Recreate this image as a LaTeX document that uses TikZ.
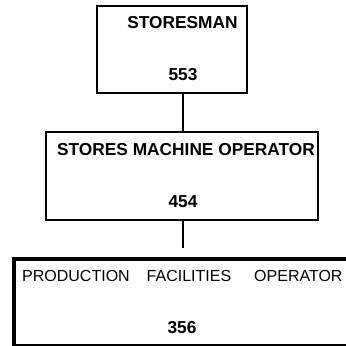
\documentclass[tikz,border=0pt]{standalone}
\usepackage{fontspec}
\setmainfont{Liberation Sans}
\begin{document}
\begin{tikzpicture}[x=1pt,y=-1pt,
  boxthin/.style={draw=black,line width=2pt,rectangle,inner sep=0pt,anchor=north west},
  boxthick/.style={draw=black,line width=3.5pt,rectangle,inner sep=0pt,anchor=north west},
  titlebold/.style={font=\fontsize{17.3}{18}\selectfont\bfseries,inner sep=0pt,anchor=base},
  titleplain/.style={font=\fontsize{16}{18}\selectfont,inner sep=0pt,anchor=base west},
  numlabel/.style={font=\fontsize{17.3}{18}\selectfont\bfseries,inner sep=0pt,anchor=base},
  link/.style={draw=black,line width=1.6pt}]
\useasboundingbox (0,0) rectangle (346,346);
\clip (0,0) rectangle (346,346);
% boxes
\node[boxthin,minimum width=150pt,minimum height=87pt] (b1) at (96,5) {};
\node[boxthin,minimum width=272pt,minimum height=88pt] (b2) at (45,131) {};
\node[boxthick,minimum width=345pt,minimum height=87pt] (b3) at (12,257) {};
% texts
\node[titlebold] (t1) at (182.5,28) {STORESMAN};
\node[numlabel] (n1) at (183,80) {553};
\node[titlebold] (t2) at (186,155) {STORES MACHINE OPERATOR};
\node[numlabel] (n2) at (183,207) {454};
\node[titleplain] (t3) at (22,281) {PRODUCTION\hspace{17pt}FACILITIES\hspace{23pt}OPERATOR};
\node[numlabel] (n3) at (182,333) {356};
% connectors
\coordinate (c1) at (183,248);
\draw[link] (b1.south -| c1) -- (b2.north -| c1);
\draw[link] (b2.south -| c1) -- (c1);
\end{tikzpicture}
\end{document}
